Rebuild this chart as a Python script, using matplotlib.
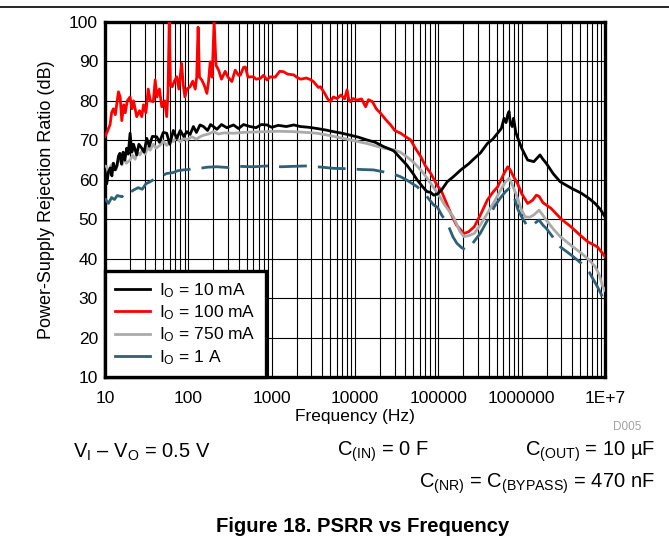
import numpy as np
import matplotlib
matplotlib.use('Agg')
import matplotlib.pyplot as plt
from matplotlib.lines import Line2D
from matplotlib.ticker import FixedLocator, NullFormatter

plt.rcParams['font.family'] = ['Liberation Sans', 'DejaVu Sans']
plt.rcParams['mathtext.fontset'] = 'custom'
plt.rcParams['mathtext.rm'] = 'Liberation Sans'
plt.rcParams['mathtext.it'] = 'Liberation Sans:italic'
plt.rcParams['mathtext.bf'] = 'Liberation Sans:bold'

# PSRR measurements, frequency in Hz and ratio in dB
f_10ma = [10, 10.5, 11, 11.6, 12.1, 12.6, 13.2, 13.9, 14.5, 15.1, 15.8, 16.5, 17.3, 18.2, 19, 20,
          21, 22, 24, 25.5, 27.6, 29.5, 31.7, 34, 37, 41.8, 45, 50, 55, 60, 66, 72.6, 80, 88, 96,
          105, 115, 125, 138, 152, 170, 185, 200, 220, 250, 290, 348, 400, 460, 550, 650, 750,
          880, 1000, 1200, 1500, 1840, 2200, 2800, 3500, 4500, 5520, 7000, 8800, 11000, 13900,
          17500, 22100, 26000, 29300, 35000, 42000, 50000, 56000, 65000, 73000, 81000, 88000,
          98000, 110000, 128000, 152000, 186000, 230000, 270000, 320000, 388000, 450000, 514000,
          570000, 615000, 650000, 680000, 706000, 730000, 770000, 800000, 850000, 920000, 1e6,
          1.18e6, 1.4e6, 1.66e6, 1.8e6, 1.97e6, 2.4e6, 2.9e6, 4e6, 5.2e6, 6.5e6, 7.6e6, 8.8e6, 1e7]
psrr_10ma = [60.8, 59, 62, 63, 61, 64.2, 62.5, 63.5, 66, 66.7, 64, 67, 65, 68, 66.5, 71.8,
             67, 69, 66.3, 69, 68, 67, 70.5, 68.5, 71, 70.9, 69.5, 72, 71.8, 69, 72.5, 70.5, 72.5, 71, 72.2,
             71.5, 73.5, 72, 73.9, 73.5, 72.5, 74, 73.5, 72.8, 74, 73.2, 73.9, 73, 74, 73.5, 73.2, 74,
             73.9, 73.3, 73.8, 73.5, 73.9, 73.5, 73.3, 73, 72.6, 72.2, 71.8, 71.3, 70.8, 70.1,
             69.5, 68.4, 67.8, 67.3, 65.5, 63.7, 61.5, 59.9, 58.2, 57, 56.8, 56.1,
             56.4, 57.5, 59.5, 60.8, 62.5, 64, 65.4, 66.8, 69.2, 70.3, 71.8,
             73, 75.6, 74.5, 76.5, 77.3, 74.5, 73.5, 75.6, 72, 70, 68,
             65, 64.6, 66.3, 65.2, 64.2, 61.5, 59.5, 57.8, 56.6, 55.2, 54, 52.5, 50.6]

f_100ma = [10, 10.8, 11.5, 12, 12.6, 13.3, 14, 14.5, 15.2, 15.9, 16.8, 17.5, 18.5, 20, 21, 22, 24,
           26, 27.6, 29, 31, 33, 35, 38, 40, 42, 45, 48, 52, 55, 57, 59, 61, 64, 68, 72.6, 77, 83,
           87, 91, 96, 105, 113, 121, 126, 131, 136, 145, 155, 167, 175, 183, 193, 204, 215, 231,
           250, 277, 300, 333, 365, 400, 420, 460, 484, 520, 550, 608, 650, 730, 800, 877, 960,
           1100, 1250, 1390, 1550, 1840, 2000, 2230, 2600, 2920, 3170, 3640, 3840, 4300, 4700,
           5060, 5500, 6080, 6800, 7500, 8030, 8400, 8800, 9500, 10600, 12000, 13400, 14500,
           16200, 18000, 20400, 23500, 26800, 30000, 35300, 40000, 46600, 53000, 61500, 70000,
           81200, 98000, 107000, 120000, 141000, 165000, 186000, 203000, 230000, 270000, 318000,
           388000, 450000, 514000, 615000, 680000, 730000, 790000, 891000, 1e6, 1.18e6, 1.35e6,
           1.5e6, 1.62e6, 1.8e6, 2.24e6, 3e6, 3.9e6, 5e6, 6.2e6, 8.1e6, 9e6, 1e7]
psrr_100ma = [71, 72.5, 74, 77, 78, 76.5, 80, 82.3, 81, 75, 79, 77, 80, 81, 78, 80, 76,
              77.5, 76, 79, 77, 83, 80, 79.8, 85.3, 81, 83, 78.5, 80, 76, 82, 100, 84, 83.6, 85, 86.1, 83, 89.5,
              84, 81, 83, 83.6, 85, 83, 86, 98.7, 86, 85.3, 84, 81.9, 85, 89.9, 86, 100, 89, 87.8,
              85.5, 87.5, 86, 84.9, 87.8, 86.5, 86.5, 88.5, 88.6, 86, 86.1, 86.1, 85.5, 85.7, 86.5, 85.3, 86.1,
              86, 87.5, 87.4, 86.8, 86.6, 86, 85.5, 85.8, 85.4, 84.9, 83.4, 83.6, 82, 80.5,
              79.8, 81, 80.6, 81.5, 80.5, 82.8, 80.5, 79.8, 80.6, 80.2, 80.5, 78.5, 80.3,
              79.8, 78, 76.8, 75.2, 73.9, 72.5, 71.8, 71, 70.1, 68, 65.9, 63.5,
              61.6, 58.4, 57.5, 55, 51.5, 48.5, 47.3, 46.4, 46.8, 48.1, 51,
              54.9, 56.8, 58.2, 61.6, 63.3, 62.5, 61, 59.1, 56.5, 54, 54.8,
              56.1, 55.8, 54.2, 52.8, 50, 48.1, 46, 44.3, 43, 41.8, 40.5]

f_750ma = [10, 10.5, 11, 11.7, 12.6, 13.5, 14.3, 15, 16, 17, 18, 20, 21.5, 23, 24.5, 26.3, 28.5,
           30.5, 32.5, 34.8, 38, 41, 46, 50, 55, 60, 66, 72, 80, 88, 96, 110, 125, 138, 152, 175,
           200, 230, 270, 348, 450, 600, 880, 1200, 1840, 2600, 3500, 5000, 8800, 13900, 22100,
           29300, 35000, 42000, 50000, 61500, 70000, 81000, 95000, 107000, 120000, 152000, 180000,
           203000, 230000, 270000, 318000, 388000, 470000, 560000, 640000, 706000, 760000, 850000,
           1e6, 1.1e6, 1.25e6, 1.4e6, 1.62e6, 1.8e6, 1.97e6, 2.4e6, 2.9e6, 4e6, 5.2e6, 6.5e6,
           7.6e6, 8.5e6, 9.4e6, 1e7]
psrr_750ma = [63.5, 63.3, 61.5, 63.5, 64.2, 62.5, 64.5, 65.4, 63.8, 65.5, 64.2, 65, 66.2, 65.2, 67, 66.3, 67.8,
              66.5, 68.2, 67.5, 69, 68, 68.8, 69.8, 68.7, 70, 69.7, 70.8, 69.6, 70.5, 70.1, 70.9, 70.3, 70.9, 71.3, 71.6,
              72.2, 71.6, 71.9, 71.8, 72, 72.1, 72.2, 72.3, 72.2, 72, 71.8, 71.2, 70.1, 69.2, 68,
              67.6, 67, 65.8, 64.5, 62.5, 61, 59.1, 57, 55.3, 53.5, 50.6, 47,
              45.6, 45.8, 46.4, 48.5, 51.5, 54.5, 57.4, 59.5, 60.4, 59, 56.6,
              52.3, 50.6, 50.5, 51.1, 52.3, 51, 49.8, 47.5, 45.6, 43.2, 41.4, 39.6,
              38, 36, 32.9, 32]

f_1a = [10, 11, 12, 13, 14, 16, 18, 20, 22, 25, 28, 31, 34.8, 40, 46, 55, 65, 75, 87, 100, 120,
        138, 170, 220, 300, 400, 600, 880, 1300, 2500, 4000, 5520, 8000, 12000, 16700, 22000,
        29300, 35000, 42000, 56000, 70000, 88000, 98000, 110000, 128000, 150000, 167000, 190000,
        214000, 250000, 318000, 390000, 470000, 560000, 640000, 706000, 760000, 810000, 900000,
        1e6, 1.18e6, 1.4e6, 1.62e6, 1.8e6, 1.97e6, 2.4e6, 2.9e6, 4e6, 5.2e6, 6.5e6, 8.1e6, 9e6, 1e7]
psrr_1a = [55.3, 54, 55.5, 55, 56, 55.7, 57.2, 56.8, 57.4, 58, 57.6, 59, 59.5, 60.3, 60.8, 61.6, 61.8, 62.3, 62.5, 62.6, 63,
           62.9, 63.2, 63.3, 63.1, 63.4, 63.3, 63.5, 63.3, 63.5, 63.2, 62.9, 62.8, 62.6, 62.5, 62,
           61.4, 60.8, 59.9, 58.2, 56.2, 53.6, 53, 51, 49, 45.5, 43.9, 42.8,
           42.2, 43.5, 46.4, 49.8, 53.2, 55.5, 57, 57.8, 56.8, 55.7, 52.5,
           50.6, 48.1, 48.8, 49.8, 48.5, 47.7, 45.3, 43, 40.8, 38.8, 36.5, 32.9, 31, 28]

x_ticks = [10, 100, 1000, 10000, 100000, 1000000, 10000000]
x_labels = ['10', '100', '1000', '10000', '100000', '1000000', '1E+7']
y_ticks = list(range(10, 101, 10))

fig = plt.figure(figsize=(6.69, 5.41), dpi=100)
ax = fig.add_axes([105 / 669, 1 - 377 / 541, 500 / 669, 355 / 541])

ax.plot(f_10ma, psrr_10ma, color='black', lw=2.0, label='I$_{\\mathrm{O}}$ = 10 mA', zorder=4)
ax.plot(f_100ma, psrr_100ma, color='#ff0000', lw=2.0, label='I$_{\\mathrm{O}}$ = 100 mA', zorder=3)
ax.plot(f_750ma, psrr_750ma, color='#aaaaaa', lw=2.0, label='I$_{\\mathrm{O}}$ = 750 mA', zorder=3)
ax.plot(f_1a, psrr_1a, color='#2e6078', lw=2.0, dashes=[10, 4], label='I$_{\\mathrm{O}}$ = 1 A', zorder=3)

ax.set_xscale('log')
ax.set_xlim(10, 1e7)
ax.set_ylim(10, 100)
ax.xaxis.set_major_locator(FixedLocator(x_ticks))
ax.set_xticklabels(x_labels)
ax.xaxis.set_minor_formatter(NullFormatter())
ax.set_yticks(y_ticks)
ax.tick_params(which='both', length=0, labelsize=12.5)
ax.tick_params(axis='x', pad=10)
ax.tick_params(axis='y', pad=5)
ax.grid(True, which='major', color='black', lw=0.8)
ax.grid(True, which='minor', axis='x', color='black', lw=0.8)
ax.set_axisbelow(True)
for s in ax.spines.values():
    s.set_linewidth(2.4)

ax.set_xlabel('Frequency (Hz)', fontsize=12.5, labelpad=2)
ax.set_ylabel('Power-Supply Rejection Ratio (dB)', fontsize=13, labelpad=10)

leg = ax.legend(loc='lower left', borderaxespad=0, fontsize=12.5, handlelength=2.0,
                labelspacing=0.2, handletextpad=0.5, borderpad=0.6, fancybox=False,
                framealpha=1, edgecolor='black')
leg.get_frame().set_linewidth(2.4)
for h in leg.get_lines():
    h.set_linestyle('-')
    h.set_linewidth(2)

# separator line at the top of the page
fig.add_artist(Line2D([0, 1], [1 - 7 / 541, 1 - 7 / 541], color='black', lw=1.2))

fig.text(641 / 669, 1 - 427 / 541, 'D005', fontsize=8.5, color='#a0a0a0', ha='right', va='center')
fig.text(73 / 669, 1 - 452 / 541, 'V$_{\\mathrm{I}}$ \u2013 V$_{\\mathrm{O}}$ = 0.5 V', fontsize=14.5,
         ha='left', va='center')
fig.text(337 / 669, 1 - 452 / 541, 'C$_{\\mathrm{(IN)}}$ = 0 F', fontsize=14.5, ha='left', va='center')
fig.text(655 / 669, 1 - 452 / 541, 'C$_{\\mathrm{(OUT)}}$ = 10 \u00b5F', fontsize=14.5, ha='right', va='center')
fig.text(655 / 669, 1 - 484 / 541, 'C$_{\\mathrm{(NR)}}$ = C$_{\\mathrm{(BYPASS)}}$ = 470 nF', fontsize=14.5,
         ha='right', va='center')
fig.text(363 / 669, 1 - 527 / 541, 'Figure 18. PSRR vs Frequency', fontsize=14.6, fontweight='bold',
         ha='center', va='center')

fig.savefig('out.png', dpi=100)
